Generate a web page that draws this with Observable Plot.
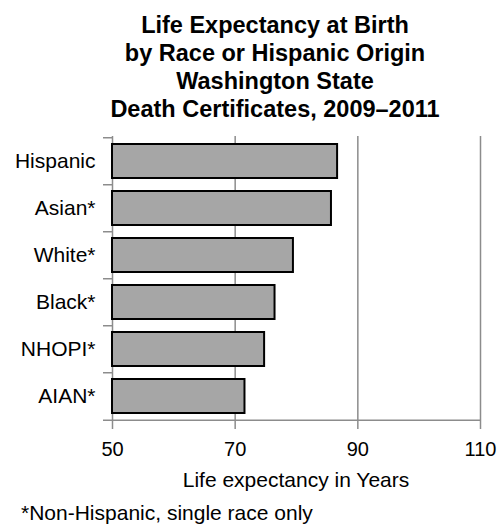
<!DOCTYPE html>
<html>
<head>
<meta charset="utf-8">
<script src="https://cdn.jsdelivr.net/npm/d3@7"></script>
<script src="https://cdn.jsdelivr.net/npm/@observablehq/plot@0.6"></script>
<style>
  html, body { margin: 0; padding: 0; background: #fff; overflow: hidden; }
  body { width: 502px; height: 527px; position: relative; font-family: "Liberation Sans", Arial, sans-serif; color: #000; }
  #title { position: absolute; top: 11px; left: 48px; width: 454px; text-align: center; font-weight: bold; font-size: 23.5px; line-height: 28px; }
  #chart { position: absolute; top: 123px; left: 0; }
  #xlabel { position: absolute; top: 468px; left: 112px; width: 368px; text-align: center; font-size: 21px; line-height: 24px; }
  #note { position: absolute; top: 501px; left: 21px; font-size: 21px; line-height: 24px; white-space: nowrap; }
</style>
</head>
<body>
<div id="title">Life Expectancy at Birth<br>by Race or Hispanic Origin<br>Washington State<br>Death Certificates, 2009–2011</div>
<div id="chart"></div>
<div id="xlabel">Life expectancy in Years</div>
<div id="note">*Non-Hispanic, single race only</div>
<script>
const categories = ["Hispanic", "Asian*", "White*", "Black*", "NHOPI*", "AIAN*"];
const lifeExpectancy = [86.7, 85.7, 79.5, 76.5, 74.8, 71.6];
const xTicks = [50, 70, 90, 110];
const xDomain = [50, 110];

const data = categories.map((c, i) => ({category: c, value: lifeExpectancy[i]}));

const W = 502, H = 340, mT = 13, mB = 42, mL = 112, mR = 22;
const halfStep = (H - mT - mB) / categories.length / 2;
const grid = "#8c8c8c";

const chart = Plot.plot({
  width: W, height: H,
  marginTop: mT, marginBottom: mB, marginLeft: mL, marginRight: mR,
  style: {fontFamily: "Liberation Sans, Arial, sans-serif", color: "#000", background: "#fff"},
  x: {domain: xDomain, ticks: xTicks},
  y: {domain: categories, paddingInner: 0.28, paddingOuter: 0.14},
  marks: [
    Plot.ruleX(xTicks.slice(1), {stroke: grid, strokeWidth: 1.5}),
    Plot.ruleX([xDomain[0]], {stroke: grid, strokeWidth: 1.5}),
    Plot.ruleY(categories, {y: d => d, x1: xDomain[0], x2: xDomain[0], insetLeft: -9, dy: -halfStep, stroke: grid, strokeWidth: 1.5}),
    Plot.ruleY([categories[categories.length - 1]], {y: d => d, dy: halfStep, insetLeft: -9, stroke: grid, strokeWidth: 1.5}),
    Plot.barX(data, {y: "category", x1: xDomain[0], x2: "value", fill: "#a6a6a6", stroke: "#000", strokeWidth: 2}),
    Plot.axisX({ticks: xTicks, tickSize: 8, tickPadding: 12, stroke: grid, strokeWidth: 1.5, fill: "#000", fontSize: 20, label: null}),
    Plot.axisY({tickSize: 0, tickPadding: 17, fontSize: 21, fill: "#000", label: null})
  ]
});
document.getElementById("chart").appendChild(chart);
</script>
</body>
</html>
